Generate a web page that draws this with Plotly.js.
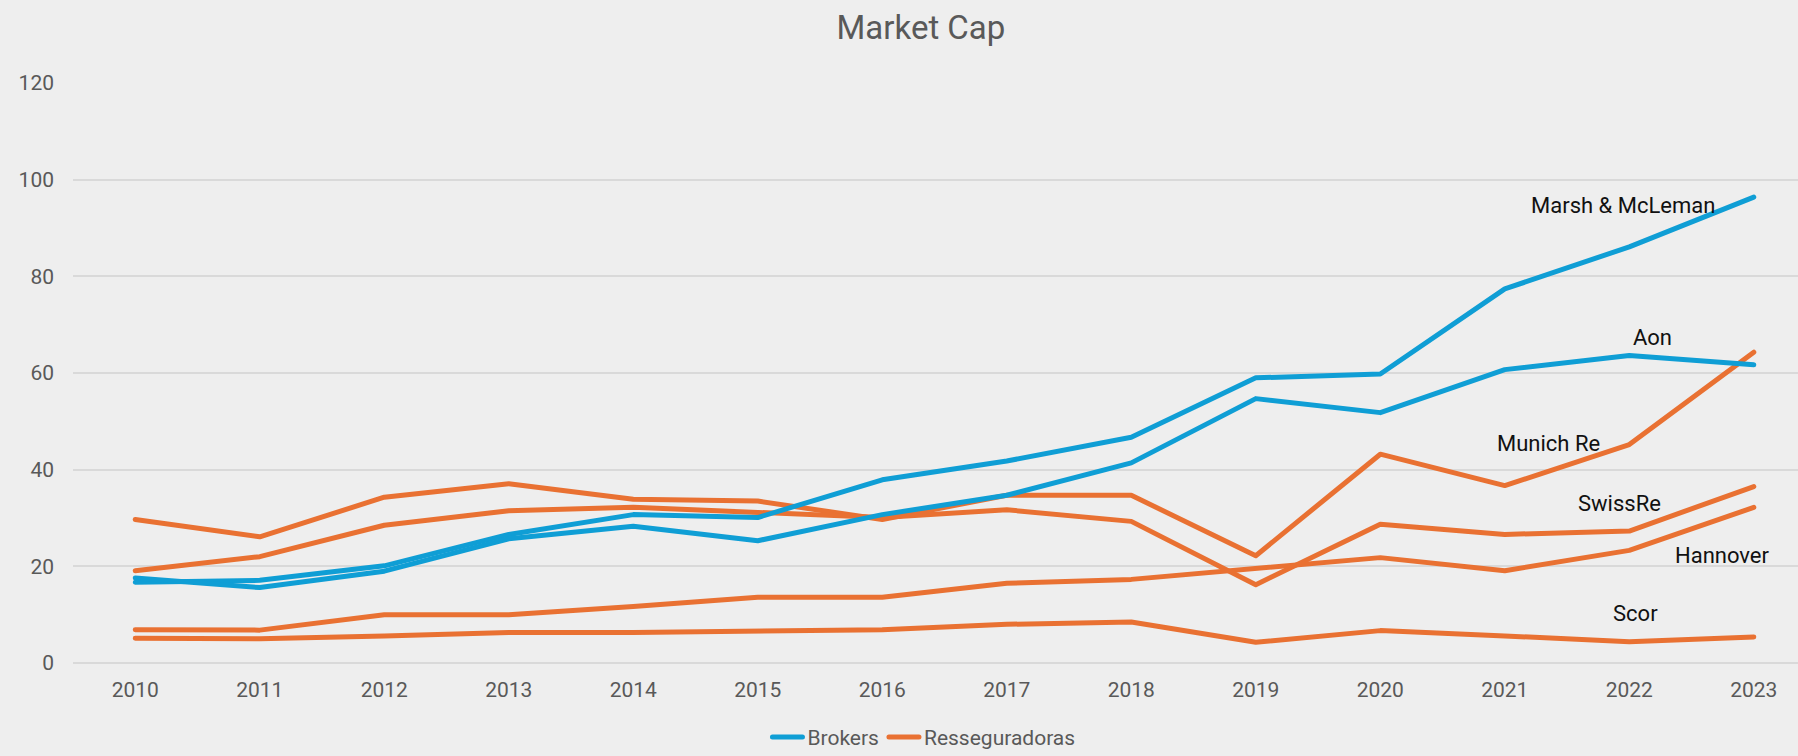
<!DOCTYPE html>
<html>
<head>
<meta charset="utf-8">
<script src="https://cdn.plot.ly/plotly-3.0.1.min.js"></script>
<style>
  html, body { margin: 0; padding: 0; background: #eeeeee; }
  #chart { width: 1798px; height: 756px; }
  .scatterlayer .js-line, .legendlines path { stroke-linecap: round !important; stroke-linejoin: round !important; }
</style>
</head>
<body>
<div id="chart"></div>
<script>
const years = [2010, 2011, 2012, 2013, 2014, 2015, 2016, 2017, 2018, 2019, 2020, 2021, 2022, 2023];
const marsh = [16.7, 17.1, 20.1, 26.6, 30.7, 30.1, 37.9, 41.8, 46.7, 59.0, 59.8, 77.4, 86.1, 96.4];
const aon = [17.6, 15.6, 19.0, 25.7, 28.3, 25.3, 30.7, 34.7, 41.4, 54.7, 51.8, 60.7, 63.6, 61.7];
const munich = [29.7, 26.1, 34.3, 37.1, 33.9, 33.5, 29.7, 34.7, 34.7, 22.2, 43.2, 36.7, 45.2, 64.3];
const swiss = [19.1, 22.0, 28.5, 31.5, 32.2, 31.1, 30.1, 31.7, 29.3, 16.2, 28.7, 26.6, 27.3, 36.5];
const hannover = [6.9, 6.8, 10.0, 10.0, 11.7, 13.6, 13.6, 16.5, 17.3, 19.5, 21.8, 19.1, 23.3, 32.2];
const scor = [5.1, 5.0, 5.6, 6.3, 6.3, 6.6, 6.9, 8.0, 8.5, 4.3, 6.7, 5.6, 4.4, 5.4];
const groupNames = ['Brokers', 'Resseguradoras'];
const labelNames = ['Marsh & McLeman', 'Aon', 'Munich Re', 'SwissRe', 'Hannover', 'Scor'];

const BLUE = '#0F9ED5';
const ORANGE = '#E97132';
const FONT = 'Roboto, "Noto Sans", sans-serif';

function line(y, name, color, group, show, rank) {
  return {
    x: years, y: y, type: 'scatter', mode: 'lines',
    name: name, legendgroup: group, showlegend: show, legendrank: rank,
    line: { color: color, width: 5 },
    hoverinfo: 'x+y'
  };
}

const traces = [
  line(munich, groupNames[1], ORANGE, 'r', true, 2),
  line(swiss, groupNames[1], ORANGE, 'r', false, 2),
  line(hannover, groupNames[1], ORANGE, 'r', false, 2),
  line(scor, groupNames[1], ORANGE, 'r', false, 2),
  line(marsh, groupNames[0], BLUE, 'b', true, 1),
  line(aon, groupNames[0], BLUE, 'b', false, 1)
];

const labelPos = [
  [2021.95, 94.6], [2022.19, 67.3], [2021.35, 45.5],
  [2021.92, 32.9], [2022.75, 22.3], [2022.05, 10.3]
];

const annotations = labelNames.map((t, i) => ({
  text: t, x: labelPos[i][0], y: labelPos[i][1], xref: 'x', yref: 'y',
  showarrow: false, xanchor: 'center', yanchor: 'middle',
  font: { family: FONT, size: 22, color: '#111111' }
}));

const layout = {
  width: 1798, height: 756,
  paper_bgcolor: '#eeeeee', plot_bgcolor: '#eeeeee',
  margin: { l: 73, r: 0, t: 83, b: 93, autoexpand: false },
  font: { family: FONT, color: '#595959' },
  title: {
    text: 'Market Cap', font: { family: FONT, size: 33, color: '#595959' },
    xref: 'container', x: 0.5122, xanchor: 'center',
    yref: 'container', y: 0.964, yanchor: 'middle'
  },
  xaxis: {
    range: [2009.5, 2023.355], tickvals: years, ticktext: years.map(String),
    showgrid: false, zeroline: false, showline: false, ticks: '',
    tickfont: { family: FONT, size: 21, color: '#595959' },
    ticklabelstandoff: 12, fixedrange: true
  },
  yaxis: {
    range: [0, 120], dtick: 20, tick0: 0,
    showgrid: true, gridcolor: '#d9d9d9', gridwidth: 2,
    zeroline: true, zerolinecolor: '#d9d9d9', zerolinewidth: 2,
    showline: false, ticks: '',
    tickfont: { family: FONT, size: 21, color: '#595959' },
    ticklabelstandoff: 18, fixedrange: true
  },
  legend: {
    orientation: 'h', x: 0.4933, xanchor: 'center', y: -0.128, yanchor: 'middle',
    font: { family: FONT, size: 21, color: '#595959' },
    bgcolor: 'rgba(0,0,0,0)', traceorder: 'normal'
  },
  annotations: annotations,
  showlegend: true
};

Plotly.newPlot('chart', traces, layout, { displayModeBar: false, staticPlot: true });
</script>
</body>
</html>
